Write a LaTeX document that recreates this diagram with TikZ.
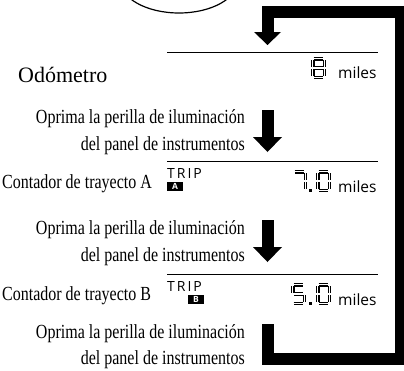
\documentclass[tikz,border=0pt]{standalone}
\usepackage{fontspec}
\setmainfont{Liberation Serif}
\newfontfamily\condserif[FakeStretch=0.8]{Liberation Serif}
\newfontfamily\lcdfont{Open Sans}
\usetikzlibrary{positioning}
% segment centre lines of a 15 x 22 seven-segment digit (top left at 0,0)
\newcommand\sega{(2.6,1.8) -- (12.4,1.8)}
\newcommand\segb{(13.2,3) -- (13.2,10)}
\newcommand\segc{(13.2,12) -- (13.2,19)}
\newcommand\segd{(2.6,20.2) -- (12.4,20.2)}
\newcommand\sege{(1.8,12) -- (1.8,19)}
\newcommand\segf{(1.8,3) -- (1.8,10)}
\newcommand\segg{(3,11) -- (12,11)}
\tikzset{
  loopbar/.style={line width=12pt, line join=miter},
  sepline/.style={line width=0.9pt},
  prompt/.style={anchor=base east, inner sep=0pt, font=\condserif\fontsize{20}{22}\selectfont},
  modename/.style={anchor=base west, inner sep=0pt, font=\condserif\fontsize{20}{22}\selectfont},
  unit/.style={anchor=base west, inner sep=0pt, font=\lcdfont\fontsize{15.5}{17}\selectfont},
  triptag/.style={anchor=base west, inner sep=0pt, font=\lcdfont\fontsize{14}{16}\selectfont\addfontfeature{LetterSpace=14}},
  tripbox/.style={fill=black, text=white, inner sep=0pt, minimum width=16pt, minimum height=9pt, font=\lcdfont\bfseries\fontsize{8.5}{8.5}\selectfont},
  lcdseg/.style={line width=3.4pt},
  lcdhole/.style={white, line width=1.1pt},
  % seven-segment digit, argument = list of lit segments
  segdigit/.pic={
    \foreach \s in {#1} {
      \draw[lcdseg] \csname seg\s\endcsname;
      \draw[lcdhole] \csname seg\s\endcsname;
    }
  },
  % push arrow: shaft from the origin down, head tip at (0,42)
  pusharrow/.pic={
    \fill (-6,0) rectangle (6,28);
    \fill (-14.5,27) -- (14.5,27) -- (0,42) -- cycle;
  },
}

\begin{document}
\begin{tikzpicture}[x=1pt, y=-1pt]
  \useasboundingbox (0,0) rectangle (404,370);
  \clip (0,0) rectangle (404,370);
  % knob outline, cut by the top edge
  \draw[line width=1.2pt] (179,-20) ellipse [x radius=59, y radius=33];
  % ---- return loop with its head into the odometer
  \coordinate (loopin) at (267.5,33);
  \coordinate (loopout) at (267.5,324);
  \draw[loopbar] (loopin) -- (267.5,11.5) -- (401,11.5) -- (401,359) -- (267.5,359) -- (loopout);
  \fill (254,32) -- (281,32) -- (267.5,45) -- cycle;
  % ---- odometer
  \draw[sepline] (167,52) -- (378,52);
  \node[modename, font=\fontsize{22}{24}\selectfont] (odo) at (18,82) {Odómetro};
  \pic at (311,57) {segdigit={a,b,c,d,e,f,g}};
  \node[unit] (odounit) at (338,78) {miles};
  % ---- first push
  \node[prompt] (pusha1) at (245,123) {Oprima la perilla de iluminación};
  \node[prompt] (pusha2) at (245,150) {del panel de instrumentos};
  \pic at (267.5,110) {pusharrow};
  % ---- trip A
  \draw[sepline] (167,161) -- (378,161);
  \node[modename] (tripa) at (2,188) {Contador de trayecto A};
  \node[triptag] (tripatag) at (167,178) {TRIP};
  \node[tripbox] (tripabox) at (175,186) {A};
  \pic at (292,170) {segdigit={a,b,c}};
  \fill (309,189) rectangle (312,192);
  \pic at (316,170) {segdigit={a,b,c,d,e,f}};
  \node[unit] (tripaunit) at (338,192) {miles};
  % ---- second push
  \node[prompt] (pushb1) at (245,234) {Oprima la perilla de iluminación};
  \node[prompt] (pushb2) at (245,261) {del panel de instrumentos};
  \pic at (267.5,220) {pusharrow};
  % ---- trip B
  \draw[sepline] (167,274) -- (378,274);
  \node[modename] (tripb) at (2,300) {Contador de trayecto B};
  \node[triptag] (tripbtag) at (167,291) {TRIP};
  \node[tripbox] (tripbbox) at (196,299.5) {B};
  \pic at (291,283) {segdigit={a,f,g,c,d}};
  \fill (309,302) rectangle (312,305);
  \pic at (316,283) {segdigit={a,b,c,d,e,f}};
  \node[unit] (tripbunit) at (338,305) {miles};
  % ---- third push, back round the loop
  \node[prompt] (pushc1) at (245,338) {Oprima la perilla de iluminación};
  \node[prompt] (pushc2) at (245,364) {del panel de instrumentos};
\end{tikzpicture}
\end{document}
